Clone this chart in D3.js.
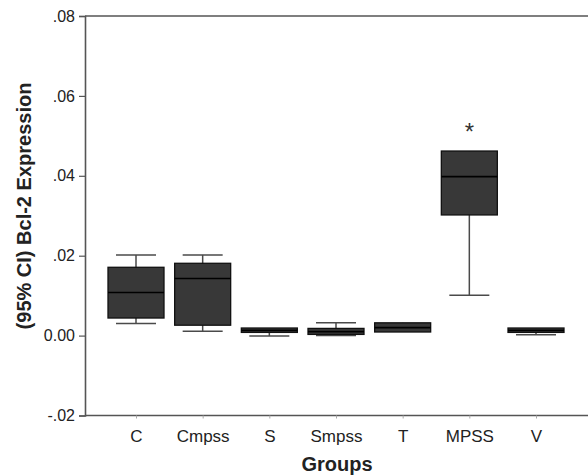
<!DOCTYPE html>
<html>
  <head>
    <script src="https://d3js.org/d3.v7.min.js"></script>
    <style>
      body { margin: 0; background: #fff; }
      text { font-family: "Liberation Sans", Arial, sans-serif; }
    </style>
  </head>
  <body>
    <svg width="588" height="476"></svg>
  </body>
</html>
<script>

const groups = ['C', 'Cmpss', 'S', 'Smpss', 'T', 'MPSS', 'V'];
const lowWhisker = [0.0030, 0.0011, -0.0001, 0.0000, 0.0009, 0.0101, 0.0002];
const q1 = [0.0044, 0.0026, 0.0008, 0.0003, 0.0009, 0.0302, 0.0008];
const median = [0.0108, 0.0143, 0.0013, 0.0010, 0.0020, 0.0398, 0.0013];
const q3 = [0.0171, 0.0181, 0.0019, 0.0018, 0.0032, 0.0462, 0.0019];
const highWhisker = [0.0202, 0.0202, 0.0019, 0.0032, 0.0032, 0.0462, 0.0019];
const starred = ['MPSS'];
const yTicks = [-0.02, 0, 0.02, 0.04, 0.06, 0.08];
const yTickLabels = ['-.02', '0.00', '.02', '.04', '.06', '.08'];

const boxes = groups.map((g, i) => ({
  group: g, lo: lowWhisker[i], q1: q1[i], med: median[i], q3: q3[i], hi: highWhisker[i]
}));

const svg = d3.select('svg');
const mLeft = 85, mTop = 16, mRight = 588, mBottom = 415.5;

const x = d3.scalePoint().domain(groups).range([mLeft, 587]).padding(0.765);
const y = d3.scaleLinear().domain([-0.02, 0.08]).range([mBottom, mTop]);
const boxW = 56, capW = 40;

// frame: top line and axes
svg.append('line')
  .attr('x1', mLeft).attr('x2', mRight).attr('y1', mTop).attr('y2', mTop)
  .style('stroke', '#555').style('stroke-width', 1.3);

const yAxis = svg.append('g')
  .attr('transform', `translate(${mLeft},0)`)
  .call(d3.axisLeft(y).tickValues(yTicks).tickSize(6).tickPadding(4)
    .tickFormat((d, i) => yTickLabels[i]));
yAxis.select('.domain').style('stroke', '#555').style('stroke-width', 1.6);
yAxis.selectAll('.tick line').style('stroke', '#555').style('stroke-width', 1.2);
yAxis.selectAll('text').style('font-size', '16px').style('fill', '#222');

const xAxis = svg.append('g')
  .attr('transform', `translate(0,${mBottom})`)
  .call(d3.axisBottom(x).tickSize(3).tickSizeOuter(0));
xAxis.select('.domain')
  .attr('d', `M${mLeft},0H${mRight}`)
  .style('stroke', '#555').style('stroke-width', 1.6);
xAxis.selectAll('.tick line').style('stroke', '#aaa');
xAxis.selectAll('text').attr('y', 26).attr('dy', 0)
  .style('font-size', '17px').style('fill', '#222');

// boxes and whiskers
const b = svg.append('g').selectAll('g').data(boxes).enter().append('g');

b.append('line')
  .attr('x1', d => x(d.group)).attr('x2', d => x(d.group))
  .attr('y1', d => y(d.lo)).attr('y2', d => y(d.hi))
  .style('stroke', '#4a4a4a').style('stroke-width', 1.5);

b.filter(d => d.lo < d.q1).append('line')
  .attr('x1', d => x(d.group) - capW / 2).attr('x2', d => x(d.group) + capW / 2)
  .attr('y1', d => y(d.lo)).attr('y2', d => y(d.lo))
  .style('stroke', '#4a4a4a').style('stroke-width', 1.5);

b.filter(d => d.hi > d.q3).append('line')
  .attr('x1', d => x(d.group) - capW / 2).attr('x2', d => x(d.group) + capW / 2)
  .attr('y1', d => y(d.hi)).attr('y2', d => y(d.hi))
  .style('stroke', '#4a4a4a').style('stroke-width', 1.5);

b.append('rect')
  .attr('x', d => x(d.group) - boxW / 2)
  .attr('width', boxW)
  .attr('y', d => y(d.q3))
  .attr('height', d => Math.max(y(d.q1) - y(d.q3), 2))
  .style('fill', '#383838')
  .style('stroke', '#111').style('stroke-width', 1.3);

b.append('line')
  .attr('x1', d => x(d.group) - boxW / 2).attr('x2', d => x(d.group) + boxW / 2)
  .attr('y1', d => y(d.med)).attr('y2', d => y(d.med))
  .style('stroke', '#000').style('stroke-width', 1.6);

svg.append('g').selectAll('text').data(boxes.filter(d => starred.includes(d.group)))
  .enter().append('text')
  .attr('x', d => x(d.group))
  .attr('y', d => y(d.q3) - 11)
  .attr('text-anchor', 'middle')
  .style('font-size', '24px').style('fill', '#333')
  .text('*');

// titles
svg.append('text')
  .attr('transform', 'translate(31,206) rotate(-90)')
  .attr('text-anchor', 'middle')
  .style('font-size', '20px').style('font-weight', 'bold').style('fill', '#222')
  .text('(95% CI) Bcl-2 Expression');

svg.append('text')
  .attr('x', 337).attr('y', 471)
  .attr('text-anchor', 'middle')
  .style('font-size', '20px').style('font-weight', 'bold').style('fill', '#222')
  .text('Groups');

</script>
